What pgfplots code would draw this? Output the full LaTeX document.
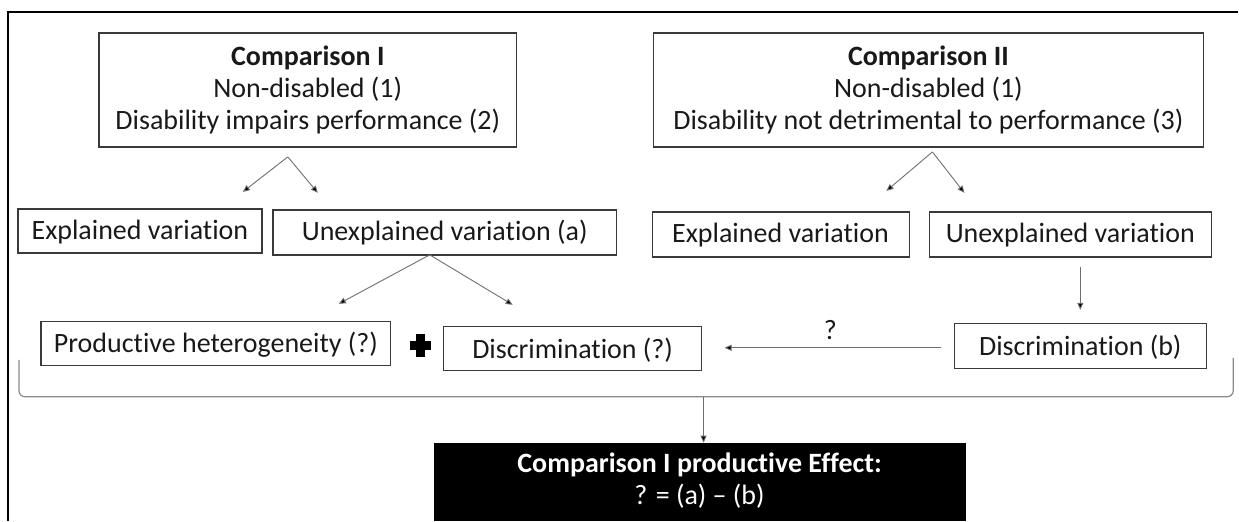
\documentclass[border=0pt]{standalone}
\usepackage{pgfplots}
\pgfplotsset{compat=1.18}
\usepackage{fontspec}
\setmainfont{Carlito}[Ligatures={NoCommon}]
\usetikzlibrary{arrows.meta}
\definecolor{boxc}{HTML}{3A3A3A}
\definecolor{arrc}{HTML}{6E6E6E}
\definecolor{brc}{HTML}{8A8A8A}
\tikzset{t/.style={font=\fontsize{28}{32}\selectfont, text=black!90, inner sep=0pt}}
\begin{document}
\begin{tikzpicture}
\begin{axis}[
  width=1239pt, height=521pt, scale only axis,
  xmin=0, xmax=1239, ymin=0, ymax=521, y dir=reverse,
  hide axis, clip=false,
]
% bounding area
\path (axis cs:0,0) rectangle (axis cs:1239,521);
% frame
\addplot[black, line width=1.6pt, mark=none] coordinates {(8,521) (8,12) (1239,12)};
% boxes
\tikzset{bx/.style={draw=boxc, line width=1.4pt}}
\draw[bx] (axis cs:99,33) rectangle (axis cs:517,147);
\node[t, align=center] at (axis cs:308,90) {\textbf{Comparison I}\\Non-disabled (1)\\Disability impairs performance (2)};
\draw[bx] (axis cs:654,33) rectangle (axis cs:1204,147);
\node[t, align=center] at (axis cs:929,90) {\textbf{Comparison II}\\Non-disabled (1)\\Disability not detrimental to performance (3)};
\draw[bx] (axis cs:18,209) rectangle (axis cs:262,253);
\node[t] at (axis cs:140,232) {Explained variation};
\draw[bx] (axis cs:273,210) rectangle (axis cs:617,255);
\node[t] at (axis cs:445,233) {Unexplained variation (a)};
\draw[bx] (axis cs:653,212) rectangle (axis cs:910,257);
\node[t] at (axis cs:781,235) {Explained variation};
\draw[bx] (axis cs:930,212) rectangle (axis cs:1212,257);
\node[t] at (axis cs:1071,235) {Unexplained variation};
\draw[bx] (axis cs:41,322) rectangle (axis cs:391,366);
\node[t] at (axis cs:216,345) {Productive heterogeneity (?)};
\draw[bx] (axis cs:444,327) rectangle (axis cs:702,371);
\node[t] at (axis cs:573,350) {Discrimination (?)};
\draw[bx] (axis cs:955,324) rectangle (axis cs:1207,369);
\node[t] at (axis cs:1081,347) {Discrimination (b)};
% plus
\fill[black] (axis cs:410,341) rectangle (axis cs:431,350);
\fill[black] (axis cs:416,334) rectangle (axis cs:425,357);
% arrows
\tikzset{ar/.style={draw=arrc, line width=0.9pt, -{Triangle[length=7pt,width=6pt,fill=black]}}}
\draw[ar] (axis cs:288,157) -- (axis cs:243,192);
\draw[ar] (axis cs:288,157) -- (axis cs:318,193);
\draw[ar] (axis cs:933,152) -- (axis cs:887,191);
\draw[ar] (axis cs:933,152) -- (axis cs:965,193);
\draw[ar] (axis cs:430,255) -- (axis cs:339,304);
\draw[ar] (axis cs:430,255) -- (axis cs:513,305);
\draw[ar] (axis cs:1081,267) -- (axis cs:1081,310);
\draw[ar] (axis cs:942,348) -- (axis cs:725,348);
\node[t] at (axis cs:831,330) {?};
% bracket
\draw[brc, line width=1.2pt, rounded corners=6pt] (axis cs:19,360) -- (axis cs:19,397) -- (axis cs:1234,397) -- (axis cs:1234,358);
\draw[ar] (axis cs:704,397) -- (axis cs:704,443);
% result box
\fill[black] (axis cs:434,443) rectangle (axis cs:967,521);
\node[t, text=white, align=center] at (axis cs:700,481) {\textbf{Comparison I productive Effect:}\\? = (a) -- (b)};
\end{axis}
\end{tikzpicture}
\end{document}
